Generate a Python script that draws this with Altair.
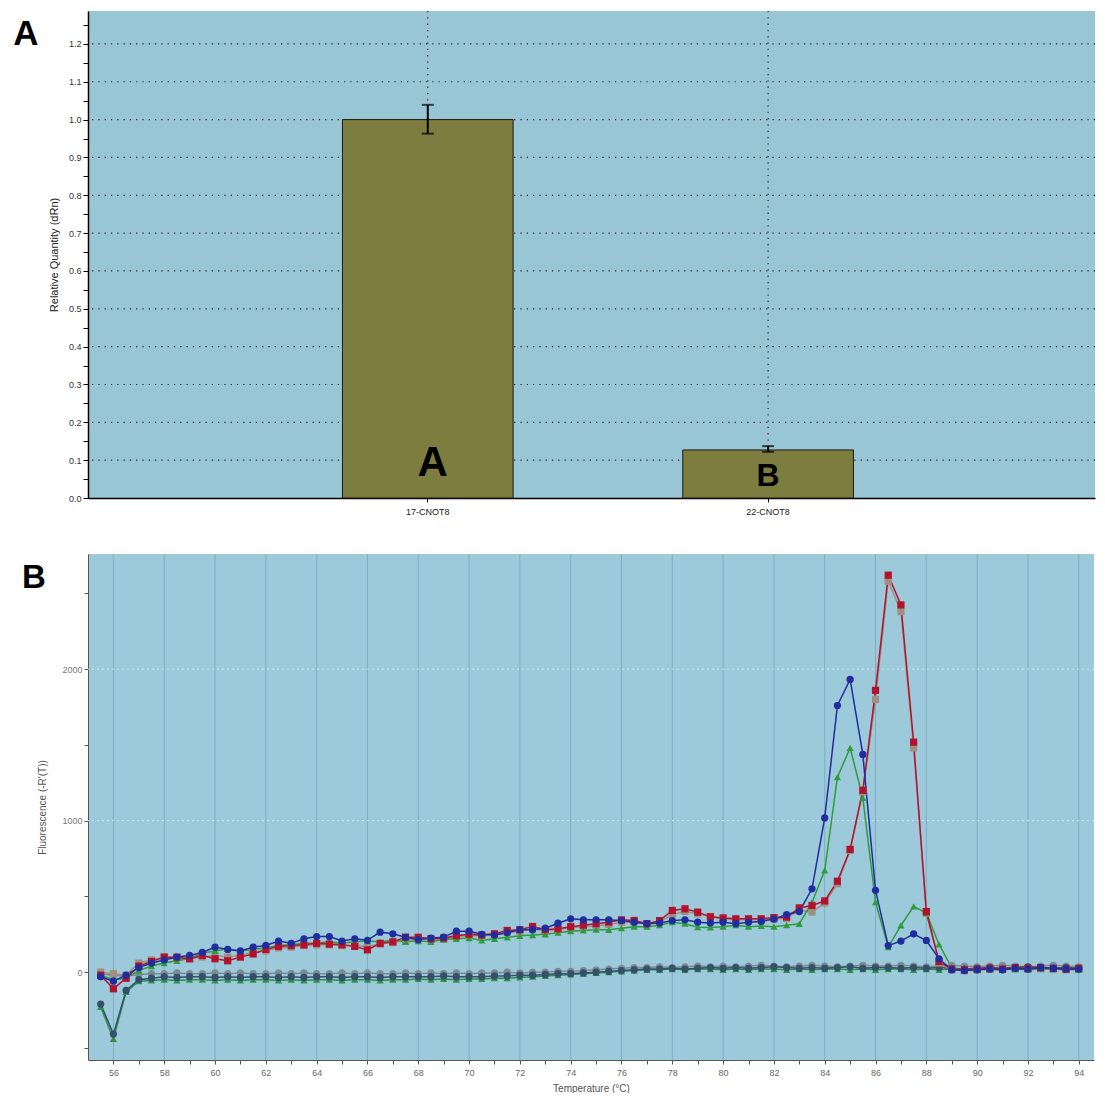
import altair as alt
import pandas as pd

# ---------------- Panel A data ----------------
genes = ["17-CNOT8", "22-CNOT8"]
rel_quantity = [1.0, 0.127]
err_low = [0.963, 0.122]
err_high = [1.039, 0.137]
group_letters = ["A", "B"]
letter_base = [0.058, 0.032]
a_grid_values = [0.1, 0.2, 0.3, 0.4, 0.5, 0.6, 0.7, 0.8, 0.9, 1.0, 1.1, 1.2]
a_tick_values = [0.0, 0.05, 0.1, 0.15, 0.2, 0.25, 0.3, 0.35, 0.4, 0.45, 0.5, 0.55,
                 0.6, 0.65, 0.7, 0.75, 0.8, 0.85, 0.9, 0.95, 1.0, 1.05, 1.1, 1.15,
                 1.2, 1.25]

# ---------------- Panel B data ----------------
temps = [55.5, 56.0, 56.5, 57.0, 57.5, 58.0, 58.5, 59.0, 59.5, 60.0,
         60.5, 61.0, 61.5, 62.0, 62.5, 63.0, 63.5, 64.0, 64.5, 65.0,
         65.5, 66.0, 66.5, 67.0, 67.5, 68.0, 68.5, 69.0, 69.5, 70.0,
         70.5, 71.0, 71.5, 72.0, 72.5, 73.0, 73.5, 74.0, 74.5, 75.0,
         75.5, 76.0, 76.5, 77.0, 77.5, 78.0, 78.5, 79.0, 79.5, 80.0,
         80.5, 81.0, 81.5, 82.0, 82.5, 83.0, 83.5, 84.0, 84.5, 85.0,
         85.5, 86.0, 86.5, 87.0, 87.5, 88.0, 88.5, 89.0, 89.5, 90.0,
         90.5, 91.0, 91.5, 92.0, 92.5, 93.0, 93.5, 94.0]

ntc_grey = [-10, -20, -25, -15, -10, -10, -5, -10, -10, -5,
            -10, -5, -10, -10, -5, -10, -5, -10, -10, -5,
            -10, -5, -10, -10, -5, -10, -5, -10, -5, -10,
            -5, -5, 0, -5, 0, 0, 5, 5, 10, 15,
            20, 25, 30, 30, 35, 30, 35, 40, 35, 40,
            35, 40, 45, 40, 35, 40, 45, 40, 35, 40,
            45, 40, 40, 45, 40, 35, 40, 45, 40, 35,
            40, 45, 40, 35, 40, 45, 40, 35]
ntc_green = [-230, -440, -130, -60, -55, -50, -55, -50, -50, -55,
             -50, -55, -50, -50, -55, -50, -55, -50, -50, -55,
             -50, -50, -55, -50, -50, -45, -50, -45, -50, -45,
             -45, -40, -40, -35, -30, -25, -20, -15, -10, -5,
             0, 5, 10, 15, 15, 20, 15, 20, 20, 15,
             20, 15, 20, 20, 15, 20, 15, 20, 20, 15,
             20, 15, 20, 20, 15, 20, 15, 20, 15, 20,
             15, 20, 20, 15, 20, 20, 15, 20]
ntc_blue = [-211, -409, -121, -50, -40, -30, -35, -30, -30, -35,
            -30, -35, -30, -30, -35, -30, -35, -30, -30, -35,
            -30, -30, -35, -30, -30, -30, -30, -25, -30, -30,
            -30, -25, -25, -20, -20, -15, -10, -10, -5, 0,
            5, 10, 15, 20, 20, 25, 20, 25, 30, 25,
            30, 25, 30, 35, 30, 25, 30, 25, 30, 35,
            25, 30, 30, 25, 30, 25, 30, 25, 20, 25,
            30, 25, 30, 35, 30, 25, 30, 25]
smp_grey = [0, -10, -20, 60, 80, 100, 95, 90, 100, 110,
            100, 110, 130, 140, 160, 165, 175, 180, 180, 175,
            175, 170, 185, 195, 210, 215, 215, 220, 235, 240,
            240, 245, 260, 270, 285, 275, 280, 295, 300, 305,
            315, 330, 330, 319, 330, 380, 400, 385, 367, 350,
            345, 345, 345, 350, 355, 410, 396, 457, 583, 803,
            1188, 1800, 2580, 2380, 1480, 389, 60, 15, 10, 15,
            20, 20, 25, 20, 25, 20, 15, 20]
smp_green = [-20, -50, -40, 10, 40, 60, 75, 90, 125, 140,
             154, 140, 150, 160, 175, 180, 190, 190, 200, 190,
             200, 205, 200, 210, 200, 205, 200, 215, 220, 225,
             209, 220, 230, 240, 245, 250, 260, 270, 275, 280,
             279, 290, 300, 300, 310, 330, 320, 297, 295, 300,
             310, 300, 305, 300, 310, 319, 460, 671, 1287, 1480,
             1150, 462, 165, 308, 434, 390, 183, 30, 10, 15,
             20, 15, 20, 20, 25, 20, 20, 15]
smp_red = [-20, -110, -40, 40, 70, 99, 99, 88, 110, 88,
           75, 99, 120, 150, 170, 175, 180, 190, 185, 180,
           170, 147, 190, 200, 231, 230, 220, 225, 240, 250,
           245, 253, 275, 280, 301, 280, 286, 300, 310, 320,
           330, 345, 341, 320, 340, 407, 418, 396, 365, 358,
           352, 352, 352, 360, 363, 424, 440, 470, 600, 810,
           1200, 1860, 2620, 2424, 1518, 400, 70, 20, 15, 20,
           25, 20, 30, 25, 30, 25, 20, 25]
smp_blue = [-30, -60, -20, 30, 60, 80, 100, 110, 130, 165,
            150, 140, 165, 176, 205, 190, 220, 235, 235, 205,
            220, 210, 264, 253, 230, 215, 225, 231, 270, 270,
            250, 245, 260, 280, 280, 290, 323, 352, 345, 345,
            345, 340, 330, 320, 325, 340, 345, 330, 325, 330,
            320, 330, 335, 350, 380, 400, 550, 1018, 1760, 1932,
            1437, 540, 175, 205, 253, 209, 88, 15, 10, 15,
            20, 15, 25, 20, 30, 25, 20, 20]

series_names = ["NTC grey", "NTC green", "NTC blue",
                "Sample grey", "Sample green", "Sample red", "Sample blue"]
series_values = [ntc_grey, ntc_green, ntc_blue, smp_grey, smp_green, smp_red, smp_blue]
series_colors = ["#7c8a92", "#2e8f4a", "#34506a", "#a08f80", "#2f9c3c", "#b3122e", "#1f2d9e"]
series_shapes = ["circle", "triangle-up", "circle", "square", "triangle-up", "square", "circle"]

b_grid_temps = [56, 58, 60, 62, 64, 66, 68, 70, 72, 74, 76, 78, 80, 82, 84, 86, 88, 90, 92, 94]
b_x_ticks = list(range(56, 95))
b_y_ticks = [-500, 0, 500, 1000, 1500, 2000, 2500]
b_hgrid = [1000, 2000]

FONT = "Liberation Sans"

# ---------------- Panel A ----------------
dfA = pd.DataFrame({"gene": genes, "rq": rel_quantity, "lo": err_low, "hi": err_high,
                    "letter": group_letters, "ly": letter_base})
dfAgrid = pd.DataFrame({"v": a_grid_values})

xscaleA = alt.Scale(domain=genes, paddingInner=0.4985, paddingOuter=0.7287, align=0.513)
yscaleA = alt.Scale(domain=[0, 1.287], nice=False, zero=False)
axisAx = alt.Axis(title=None, labelAngle=0, labelFontSize=9, labelColor="#222",
                  tickColor="#000", tickSize=4, domainColor="#000", domainWidth=1.5,
                  labelPadding=5, grid=False, labelFont=FONT)
axisAy = alt.Axis(title="Relative Quantity (dRn)", values=a_tick_values,
                  labelExpr="(round(datum.value*100) % 10 == 0) ? format(datum.value, '.1f') : ''",
                  labelFontSize=9, labelColor="#333", tickColor="#000", tickSize=5,
                  domainColor="#000", domainWidth=1.5, grid=False,
                  titleFontSize=11, titleFontWeight="normal", titleColor="#222",
                  titlePadding=9, labelFont=FONT, titleFont=FONT, labelPadding=2)


def xA():
    return alt.X("gene:N", scale=xscaleA, axis=axisAx)


def yA(field):
    return alt.Y(field, type="quantitative", scale=yscaleA, axis=axisAy, title="Relative Quantity (dRn)")


hgridA = alt.Chart(dfAgrid).mark_rule(color="#2a2a2a", strokeWidth=1.2, strokeDash=[1.3, 5]).encode(y=yA("v"))
vgridA = alt.Chart(dfA).mark_rule(color="#2a2a2a", strokeWidth=1.2, strokeDash=[1.3, 5]).encode(x=xA())
barsA = alt.Chart(dfA).mark_bar(color="#7e7d40", stroke="#1a1a1a", strokeWidth=1).encode(x=xA(), y=yA("rq"))
errA = alt.Chart(dfA).mark_rule(color="#000", strokeWidth=2).encode(x=xA(), y=yA("lo"), y2="hi")
capLo = alt.Chart(dfA).mark_tick(color="#000", thickness=2, size=12).encode(x=xA(), y=yA("lo"))
capHi = alt.Chart(dfA).mark_tick(color="#000", thickness=2, size=12).encode(x=xA(), y=yA("hi"))
letA1 = alt.Chart(dfA).transform_filter(alt.datum.gene == genes[0]).mark_text(
    fontSize=42, fontWeight="bold", font=FONT, baseline="alphabetic", dx=5, color="#000"
).encode(x=xA(), y=yA("ly"), text="letter:N")
letA2 = alt.Chart(dfA).transform_filter(alt.datum.gene == genes[1]).mark_text(
    fontSize=32, fontWeight="bold", font=FONT, baseline="alphabetic", color="#000"
).encode(x=xA(), y=yA("ly"), text="letter:N")
panelA = alt.Chart(pd.DataFrame({"t": ["A"]})).mark_text(
    fontSize=35, fontWeight="bold", font=FONT, align="center", baseline="middle", color="#000"
).encode(text="t:N", x=alt.value(-62), y=alt.value(23))

chartA = alt.layer(hgridA, vgridA, barsA, errA, capLo, capHi, letA1, letA2, panelA).properties(
    width=1007, height=487, view=alt.ViewBackground(fill="#99c6d5", stroke=None)
)

# ---------------- Panel B ----------------
rows = []
for k, (name, vals) in enumerate(zip(series_names, series_values)):
    for t, v in zip(temps, vals):
        rows.append({"series": name, "temp": t, "fl": v, "z": k})
dfB = pd.DataFrame(rows)

xscaleB = alt.Scale(domain=[55.0, 94.6], nice=False, zero=False)
yscaleB = alt.Scale(domain=[-580, 2760], nice=False, zero=False)
axisBx = alt.Axis(title="Temperature (°C)", values=b_x_ticks, format="d",
                  labelExpr="datum.value % 2 == 0 ? datum.label : ''",
                  grid=False, tickSize=4, tickColor="#555", domainColor="#555",
                  labelColor="#666", labelFontSize=9, titleFontSize=10, titleColor="#555",
                  titleFontWeight="normal", labelFont=FONT, titleFont=FONT, labelPadding=4,
                  titlePadding=6)
axisBy = alt.Axis(title="Fluorescence (-R'(T))", values=b_y_ticks, format="d",
                  labelExpr="datum.value % 1000 == 0 ? datum.label : ''",
                  grid=False, tickSize=4, tickColor="#555", domainColor="#555",
                  labelColor="#777", labelFontSize=9, titleFontSize=10, titleColor="#555",
                  titleFontWeight="normal", labelFont=FONT, titleFont=FONT, labelPadding=2,
                  titlePadding=14)


def xB(field):
    return alt.X(field, type="quantitative", scale=xscaleB, axis=axisBx, title="Temperature (°C)")


def yB(field):
    return alt.Y(field, type="quantitative", scale=yscaleB, axis=axisBy, title="Fluorescence (-R'(T))")


colorB = alt.Color("series:N", scale=alt.Scale(domain=series_names, range=series_colors), legend=None)
shapeB = alt.Shape("series:N", scale=alt.Scale(domain=series_names, range=series_shapes), legend=None)

vgridB = alt.Chart(pd.DataFrame({"t": b_grid_temps})).mark_rule(
    color="#7eaec2", strokeWidth=1).encode(x=xB("t"))
hgridB = alt.Chart(pd.DataFrame({"v": b_hgrid})).mark_rule(
    color="#dcebf1", strokeWidth=1, strokeDash=[2, 3], opacity=0.8).encode(y=yB("v"))
linesB = alt.Chart(dfB).mark_line(strokeWidth=1.5).encode(
    x=xB("temp"), y=yB("fl"), color=colorB, detail="series:N")
pointsB = alt.Chart(dfB).mark_point(filled=True, size=52, opacity=1).encode(
    x=xB("temp"), y=yB("fl"), color=colorB, shape=shapeB, order=alt.Order("z:Q"))
panelB = alt.Chart(pd.DataFrame({"t": ["B"]})).mark_text(
    fontSize=33, fontWeight="bold", font=FONT, align="center", baseline="middle", color="#000"
).encode(text="t:N", x=alt.value(-54), y=alt.value(24))

chartB = alt.layer(vgridB, hgridB, linesB, pointsB, panelB).properties(
    width=1006, height=506, view=alt.ViewBackground(fill="#9dcadb", stroke=None)
)

chart = alt.vconcat(chartA, chartB, spacing=37).properties(
    padding={"left": 5, "top": 2, "right": 0, "bottom": 0},
    background="white",
).configure_view(stroke=None).configure(font=FONT)

chart.save("out.html", embed_options={"renderer": "svg", "actions": False})
